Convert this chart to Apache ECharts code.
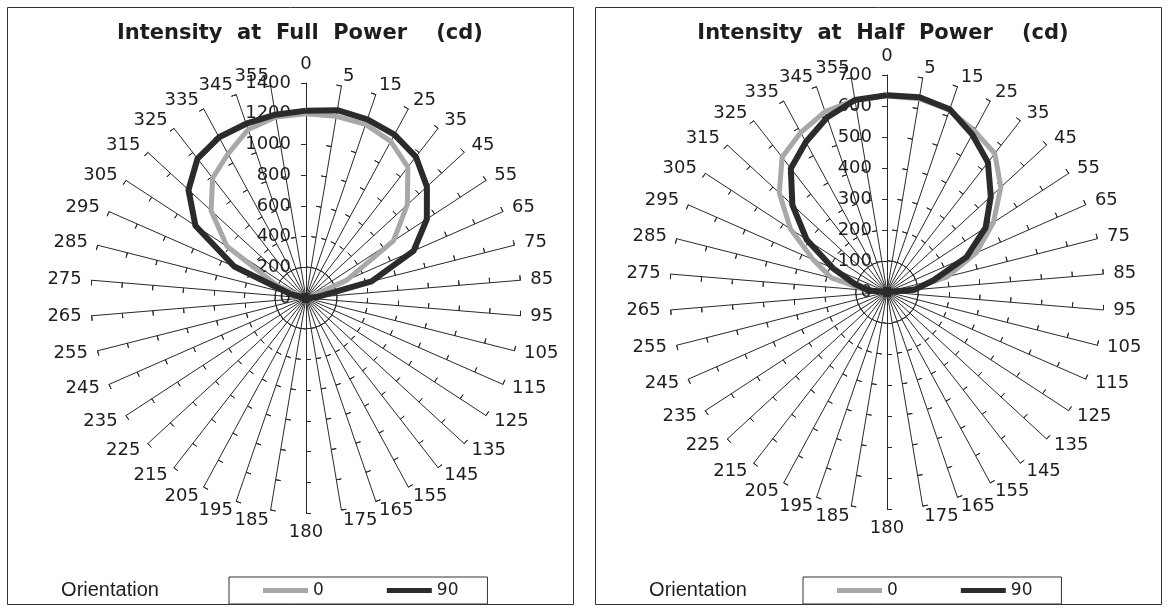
<!DOCTYPE html>
<html>
<head>
<meta charset="utf-8">
<script src="https://cdn.jsdelivr.net/npm/echarts@6/dist/echarts.min.js"></script>
<style>
  html, body { margin: 0; padding: 0; background: #fff; }
  #chart { width: 1169px; height: 609px; }
</style>
</head>
<body>
<div id="chart"></div>
<script>
// angle categories, clockwise from the top
const angles = ['0', '5', '15', '25', '35', '45', '55', '65', '75', '85', '95', '105', '115', '125',
  '135', '145', '155', '165', '175', '180', '185', '195', '205', '215', '225', '235', '245', '255',
  '265', '275', '285', '295', '305', '315', '325', '335', '345', '355']

// intensity (cd), one value per angle above
const fullPower0 = [1200, 1200, 1195, 1160, 1080, 897, 680, 290, 30, 0,
  0, 0, 0, 0, 0, 0, 0, 0, 0, 0, 0, 0, 0, 0, 0, 0, 0, 0, 0,
  0, 30, 210, 615, 840, 990, 1067, 1160, 1195]
const fullPower90 = [1220, 1240, 1230, 1210, 1165, 1070, 940, 765, 440, 70,
  0, 0, 0, 0, 0, 0, 0, 0, 0, 0, 0, 0, 0, 0, 0, 0, 0, 0, 0,
  0, 105, 510, 860, 1040, 1150, 1190, 1200, 1210]
const halfPower0 = [632, 632, 620, 592, 566, 499, 410, 314, 200, 70,
  0, 0, 0, 0, 0, 0, 0, 0, 0, 0, 0, 0, 0, 0, 0, 0, 0, 0, 0,
  65, 185, 260, 372, 472, 551, 585, 615, 628]
const halfPower90 = [635, 637, 623, 578, 530, 455, 380, 280, 155, 90,
  0, 0, 0, 0, 0, 0, 0, 0, 0, 0, 0, 0, 0, 0, 0, 0, 0, 0, 0,
  60, 108, 190, 310, 415, 505, 550, 595, 628]

const fullMax = 1400
const halfMax = 700
const orientations = ['0', '90']

const FONT = 'DejaVu Sans'
const INK = '#1e1e1e'

// radar lays indicators out counter-clockwise, so feed them 0, 355, 345 ... 5
const order = [0].concat(angles.map((_, i) => angles.length - 1 - i).slice(0, angles.length - 1))
const reorder = arr => order.map(i => arr[i])

function radarAxes(center, radius, max) {
  const indicator = order.map(i => {
    const ind = { name: angles[i], min: 0, max: max }
    if (i === 0) ind.axisLabel = { show: true }
    return ind
  })
  const main = {
    center: center,
    radius: radius,
    startAngle: 90,
    splitNumber: 7,
    shape: 'circle',
    indicator: indicator,
    axisNameGap: 10,
    axisName: { color: INK, fontSize: 18, fontFamily: FONT },
    axisLine: { lineStyle: { color: '#2a2a2a', width: 1 } },
    axisTick: { show: true, length: 5, lineStyle: { color: '#2a2a2a', width: 1 } },
    axisLabel: {
      show: false, color: INK, fontSize: 18, fontFamily: FONT, margin: 15, align: 'right',
      formatter: v => String(v)
    },
    splitLine: { show: false },
    splitArea: { show: false }
  }
  // second copy only carries the ticks on the other side of each spoke
  const ticks = {
    center: center,
    radius: radius,
    startAngle: 90,
    splitNumber: 7,
    shape: 'circle',
    indicator: order.map(i => ({ name: angles[i], min: 0, max: max })),
    axisName: { show: false },
    axisLine: { show: false },
    axisTick: { show: true, inside: true, length: 5, lineStyle: { color: '#2a2a2a', width: 1 } },
    axisLabel: { show: false },
    splitLine: { show: false },
    splitArea: { show: false }
  }
  return [main, ticks]
}

function powerSeries(radarIndex, v0, v90) {
  return {
    type: 'radar',
    radarIndex: radarIndex,
    symbol: 'none',
    silent: true,
    data: [
      { name: orientations[0], value: reorder(v0),
        lineStyle: { color: '#a8a8a8', width: 5 }, itemStyle: { color: '#a8a8a8' } },
      { name: orientations[1], value: reorder(v90),
        lineStyle: { color: '#2b2b2b', width: 6 }, itemStyle: { color: '#2b2b2b' } }
    ]
  }
}

function legendBox(left) {
  return {
    left: left,
    top: 577,
    data: orientations,
    icon: 'rect',
    itemWidth: 45,
    itemHeight: 5,
    itemGap: 63,
    padding: [5, 29, 5, 34],
    borderColor: '#333',
    borderWidth: 1,
    selectedMode: false,
    textStyle: { color: INK, fontSize: 17, fontFamily: FONT }
  }
}

const chart = echarts.init(document.getElementById('chart'), null, { renderer: 'canvas' })

chart.setOption({
  backgroundColor: '#fff',
  animation: false,
  radar: [
    ...radarAxes([306, 298], 215, fullMax),
    ...radarAxes([887, 292], 217, halfMax)
  ],
  legend: [legendBox(229), legendBox(803)],
  series: [
    powerSeries(0, fullPower0, fullPower90),
    powerSeries(2, halfPower0, halfPower90)
  ],
  graphic: [
    { type: 'rect', shape: { x: 7.5, y: 7.5, width: 566, height: 597 },
      style: { fill: null, stroke: '#333', lineWidth: 1 }, silent: true },
    { type: 'rect', shape: { x: 595.5, y: 7.5, width: 566, height: 597 },
      style: { fill: null, stroke: '#333', lineWidth: 1 }, silent: true },
    { type: 'text', x: 300, y: 34,
      style: { text: 'Intensity  at  Full  Power    (cd)', font: 'bold 21px "DejaVu Sans"',
        fill: INK, align: 'center', verticalAlign: 'middle' } },
    { type: 'text', x: 883, y: 34,
      style: { text: 'Intensity  at  Half  Power    (cd)', font: 'bold 21px "DejaVu Sans"',
        fill: INK, align: 'center', verticalAlign: 'middle' } },
    { type: 'text', x: 110, y: 590,
      style: { text: 'Orientation', font: '20px "Liberation Sans"', fill: INK,
        align: 'center', verticalAlign: 'middle' } },
    { type: 'text', x: 698, y: 590,
      style: { text: 'Orientation', font: '20px "Liberation Sans"', fill: INK,
        align: 'center', verticalAlign: 'middle' } }
  ]
})
</script>
</body>
</html>
